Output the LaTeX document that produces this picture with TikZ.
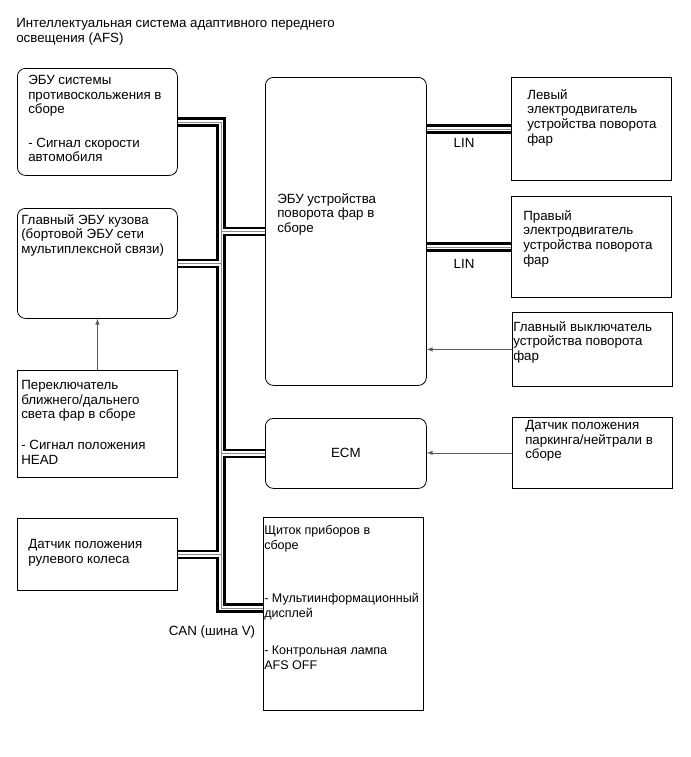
\documentclass[tikz,border=0pt]{standalone}
\usepackage{fontspec}
\setmainfont{Liberation Sans}
\usetikzlibrary{backgrounds}

\begin{document}
\begin{tikzpicture}[x=0.75pt, y=-0.75pt]
  \tikzset{every node/.style={font=\fontsize{10}{11}\selectfont},
           unit/.style 2 args={draw, line width=0.6pt, anchor=north west, inner sep=0pt,
                               minimum width=#1*0.75pt, minimum height=#2*0.75pt},
           ecu/.style 2 args={unit={#1}{#2}, rounded corners=6pt},
           txt/.style={anchor=north west, inner sep=0pt, align=left},
           sig/.style={->, >=latex, line width=0.5pt, black!65}}
  \useasboundingbox (0,0) rectangle (691,757);
  \node[txt] (title) at (16,18) {Интеллектуальная система адаптивного переднего\\освещения (AFS)};
  % left column
  \node[ecu={160}{107}] (abs) at (17,68) {};
  \node[ecu={160}{110}] (body) at (17,208) {};
  \node[unit={160}{107}] (hls) at (17,370) {};
  \node[unit={160}{72}] (steer) at (17,518) {};
  % middle column
  \node[ecu={161}{308}] (afs) at (265,77) {};
  \node[ecu={161}{70}] (ecm) at (265,418) {ECM};
  \node[unit={160}{193}] (meter) at (263,517) {};
  % right column
  \node[unit={160}{103}] (lml) at (511,77) {};
  \node[unit={160}{101}] (rml) at (511,196) {};
  \node[unit={160}{74}] (msw) at (512,312) {};
  \node[unit={160}{71}] (pnp) at (512,417) {};
  % texts
  \node[txt] (abstxt) at ([shift={(11,7)}]abs.north west)
    {ЭБУ системы\\противоскольжения в\\сборе\\[14pt]- Сигнал скорости\\автомобиля};
  \node[txt] (bodytxt) at ([shift={(4,6)}]body.north west)
    {Главный ЭБУ кузова\\(бортовой ЭБУ сети\\мультиплексной связи)};
  \node[txt] (hlstxt) at ([shift={(4,10)}]hls.north west)
    {Переключатель\\ближнего/дальнего\\света фар в сборе\\[12pt]- Сигнал положения\\HEAD};
  \node[txt] (steertxt) at ([shift={(11,21)}]steer.north west) {Датчик положения\\рулевого колеса};
  \node[txt] (afstxt) at ([shift={(12,116)}]afs.north west) {ЭБУ устройства\\поворота фар в\\сборе};
  \node[txt, font=\fontsize{9.4}{11}\selectfont] (metertxt) at ([shift={(1,8)}]meter.north west)
    {Щиток приборов в\\сборе\\[29pt]- Мультиинформационный\\дисплей\\[17pt]- Контрольная лампа\\AFS OFF};
  \node[txt] (lmltxt) at ([shift={(16,12)}]lml.north west) {Левый\\электродвигатель\\устройства поворота\\фар};
  \node[txt] (rmltxt) at ([shift={(12,14)}]rml.north west) {Правый\\электродвигатель\\устройства поворота\\фар};
  \node[txt] (mswtxt) at ([shift={(1,9)}]msw.north west) {Главный выключатель\\устройства поворота\\фар};
  \node[txt] (pnptxt) at ([shift={(13,3)}]pnp.north west) {Датчик положения\\паркинга/нейтрали в\\сборе};
  % buses
  \coordinate (canbot) at (221,608);
  \node (can) at (212,632) {CAN (шина V)};
  \node (lin1) at (464,143) {LIN};
  \node (lin2) at (464,264) {LIN};
  \begin{scope}[on background layer]
    \foreach \col/\wd in {black/7pt, white/3.6pt, black!45/0.5pt} {
      \draw[line width=\wd, \col] (abs.east) -| (canbot) -- (canbot -| meter.west);
      \draw[line width=\wd, \col] (afs.west) -- (afs.west -| canbot);
      \draw[line width=\wd, \col] (body.east) -- (body.east -| canbot);
      \draw[line width=\wd, \col] (ecm.west) -- (ecm.west -| canbot);
      \draw[line width=\wd, \col] (steer.east) -- (steer.east -| canbot);
      \draw[line width=\wd, \col] (lml.west) -- (lml.west -| afs.east);
      \draw[line width=\wd, \col] (rml.west) -- (rml.west -| afs.east);
    }
  \end{scope}
  % signals
  \draw[sig] (msw.west) -- (msw.west -| afs.east);
  \draw[sig] (pnp.west) -- (pnp.west -| ecm.east);
  \draw[sig] (hls.north) -- (body.south);
\end{tikzpicture}
\end{document}
